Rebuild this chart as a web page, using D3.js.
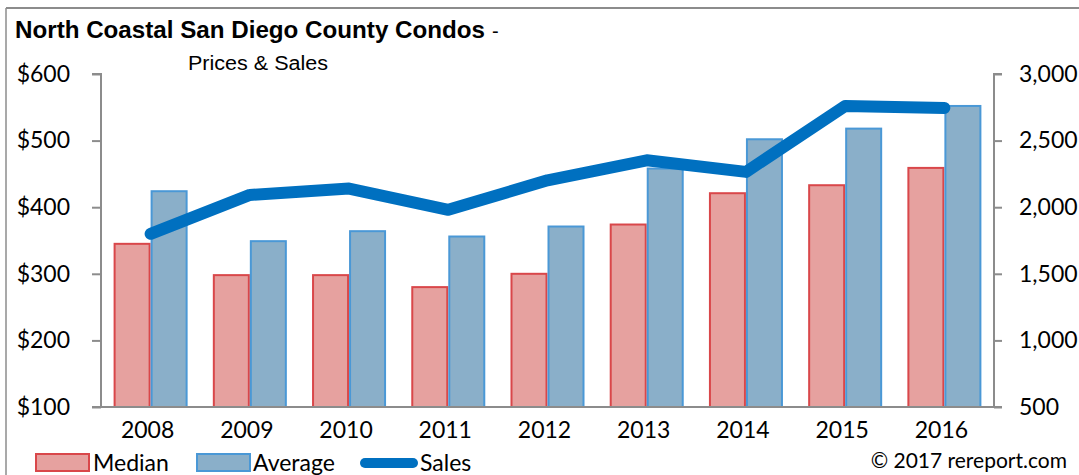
<!DOCTYPE html>
<html>
<head>
<meta charset="utf-8">
<script src="https://cdn.jsdelivr.net/npm/d3@7"></script>
<style>
  html, body { margin: 0; padding: 0; background: #fff; }
  svg { display: block; }
</style>
</head>
<body>
<svg id="chart" width="1079" height="475"></svg>
<script>
const years = ["2008","2009","2010","2011","2012","2013","2014","2015","2016"];
const medianPrice = [345, 298, 298, 280, 300, 374, 421, 433, 459];
const averagePrice = [424, 349, 364, 356, 371, 458, 502, 518, 552];
const sales = [1800, 2092, 2140, 1980, 2202, 2352, 2265, 2760, 2745];
const leftTicks = [100, 200, 300, 400, 500, 600];
const rightTicks = [500, 1000, 1500, 2000, 2500, 3000];
const seriesNames = ["Median", "Average"];

const svg = d3.select("#chart");
const plotLeft = 101, plotRight = 994, plotTop = 74, plotBottom = 407;
const labelFont = "Lato, 'Open Sans', sans-serif";

// frame
svg.append("line").attr("x1", 6).attr("x2", 1079).attr("y1", 8).attr("y2", 8)
  .attr("stroke", "#8c8c8c").attr("stroke-width", 2);
svg.append("line").attr("x1", 6).attr("x2", 6).attr("y1", 8).attr("y2", 475)
  .attr("stroke", "#8c8c8c").attr("stroke-width", 1.5);

const x = d3.scaleBand().domain(years).range([plotLeft, plotRight]).paddingInner(0.254).paddingOuter(0.127);
const xs = d3.scaleBand().domain(seriesNames).range([0, x.bandwidth()]);
const yL = d3.scaleLinear().domain([100, 600]).range([plotBottom, plotTop]);
const yR = d3.scaleLinear().domain([500, 3000]).range([plotBottom, plotTop]);

const styles = {
  Median: { fill: "#e6a19f", stroke: "#d9474a" },
  Average: { fill: "#8aafc9", stroke: "#4a98d6" }
};
const vals = { Median: medianPrice, Average: averagePrice };

seriesNames.forEach(s => {
  svg.append("g").selectAll("rect").data(years).join("rect")
    .attr("x", d => x(d) + xs(s) + 1)
    .attr("y", (d, i) => yL(vals[s][i]))
    .attr("width", xs.bandwidth() - 2)
    .attr("height", (d, i) => plotBottom - yL(vals[s][i]))
    .attr("fill", styles[s].fill)
    .attr("stroke", styles[s].stroke)
    .attr("stroke-width", 2);
});

// axes
const axisColor = "#8c8c8c";
const gL = svg.append("g").attr("transform", `translate(${plotLeft},0)`)
  .call(d3.axisLeft(yL).tickValues(leftTicks).tickSize(9).tickPadding(22).tickFormat(d => "$" + d));
const gR = svg.append("g").attr("transform", `translate(${plotRight},0)`)
  .call(d3.axisRight(yR).tickValues(rightTicks).tickSize(8).tickPadding(17).tickFormat(d3.format(",")));
[gL, gR].forEach(g => {
  g.select(".domain").attr("stroke", axisColor).attr("stroke-width", 2);
  g.selectAll(".tick line").attr("stroke", axisColor).attr("stroke-width", 2);
  g.selectAll(".tick text").attr("fill", "#000").style("font-family", labelFont).style("font-size", "23px");
});
gL.select(".domain").attr("d", `M-9,${plotTop}H0V${plotBottom}H-9`);
gR.select(".domain").attr("d", `M8,${plotTop}H0V${plotBottom}H8`);

const gX = svg.append("g").attr("transform", `translate(0,${plotBottom})`)
  .call(d3.axisBottom(x).tickSize(0).tickPadding(15));
gX.select(".domain").attr("stroke", axisColor).attr("stroke-width", 2).attr("d", `M${plotLeft},0H${plotRight}`);
gX.selectAll(".tick text").attr("fill", "#000").style("font-family", labelFont).style("font-size", "23px")
  .attr("dx", -3);

// sales line
const line = d3.line().x((d, i) => x(years[i]) + x.bandwidth() / 2).y(d => yR(d));
svg.append("path").datum(sales).attr("d", line)
  .attr("fill", "none").attr("stroke", "#0070c0").attr("stroke-width", 12)
  .attr("stroke-linecap", "round").attr("stroke-linejoin", "round");

// title
svg.append("text").attr("x", 15).attr("y", 38)
  .attr("textLength", 470).attr("lengthAdjust", "spacingAndGlyphs")
  .style("font-family", "'Liberation Sans', Arial, sans-serif").style("font-weight", "bold").style("font-size", "24px")
  .text("North Coastal San Diego County Condos");
svg.append("text").attr("x", 492).attr("y", 38)
  .style("font-family", "'Liberation Sans', Arial, sans-serif").style("font-size", "20px")
  .text("-");
svg.append("text").attr("x", 188).attr("y", 70)
  .attr("textLength", 140).attr("lengthAdjust", "spacingAndGlyphs")
  .style("font-family", "'Liberation Sans', Arial, sans-serif").style("font-size", "20px")
  .text("Prices & Sales");

// legend
const lg = svg.append("g");
const legendItems = [
  { name: "Median", x: 36, tx: 93, type: "rect" },
  { name: "Average", x: 197, tx: 253, type: "rect" },
  { name: "Sales", x: 361, tx: 420, type: "line" }
];
legendItems.forEach(it => {
  if (it.type === "rect") {
    lg.append("rect").attr("x", it.x).attr("y", 454).attr("width", 53).attr("height", 17)
      .attr("fill", styles[it.name].fill).attr("stroke", styles[it.name].stroke).attr("stroke-width", 2);
  } else {
    lg.append("line").attr("x1", it.x + 4).attr("x2", it.x + 52).attr("y1", 463).attr("y2", 463)
      .attr("stroke", "#0070c0").attr("stroke-width", 10).attr("stroke-linecap", "round");
  }
  lg.append("text").attr("x", it.tx).attr("y", 471)
    .style("font-family", labelFont).style("font-size", "23px").text(it.name);
});

svg.append("text").attr("x", 1067).attr("y", 468).attr("text-anchor", "end")
  .style("font-family", labelFont).style("font-size", "21px").text("© 2017 rereport.com");
</script>
</body>
</html>
